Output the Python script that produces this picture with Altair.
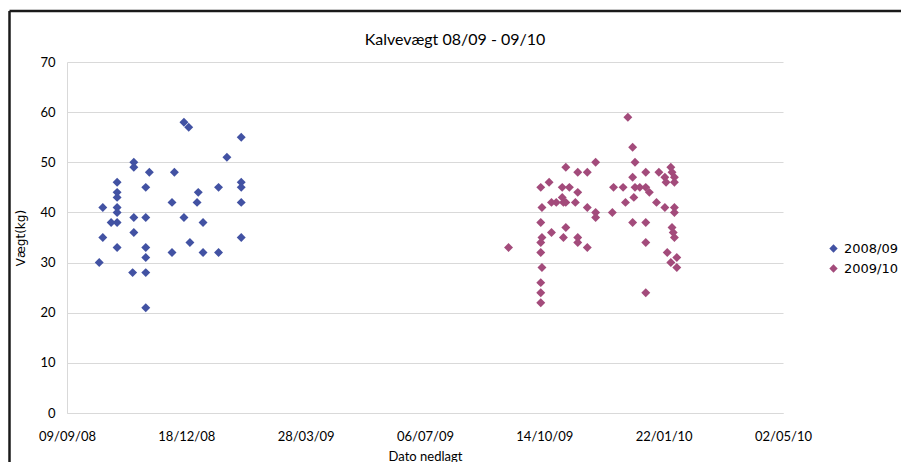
import altair as alt
import pandas as pd

# 2008/09 season
dates_0809 = [
    "2008-10-06",
    "2008-10-09", "2008-10-09",
    "2008-10-16",
    "2008-10-21", "2008-10-21", "2008-10-21", "2008-10-21", "2008-10-21", "2008-10-21", "2008-10-21",
    "2008-11-04", "2008-11-04", "2008-11-04", "2008-11-04",
    "2008-11-03",
    "2008-11-14", "2008-11-14", "2008-11-14", "2008-11-14", "2008-11-14", "2008-11-14",
    "2008-11-17",
    "2008-12-06", "2008-12-06",
    "2008-12-08",
    "2008-12-16", "2008-12-16",
    "2008-12-20",
    "2008-12-21",
    "2008-12-28",
    "2008-12-27",
    "2009-01-01", "2009-01-01",
    "2009-01-14", "2009-01-14",
    "2009-01-21",
    "2009-02-02", "2009-02-02", "2009-02-02", "2009-02-02", "2009-02-02",
]
weights_0809 = [
    30,
    41, 35,
    38,
    46, 44, 43, 41, 40, 38, 33,
    50, 49, 39, 36,
    28,
    45, 39, 33, 31, 28, 21,
    48,
    42, 32,
    48,
    58, 39,
    57,
    34,
    44,
    42,
    38, 32,
    45, 32,
    51,
    55, 46, 45, 42, 35,
]

# 2009/10 season
dates_0910 = [
    "2009-09-14",
    "2009-10-11", "2009-10-11", "2009-10-11", "2009-10-11", "2009-10-11", "2009-10-11", "2009-10-11",
    "2009-10-12", "2009-10-12", "2009-10-12",
    "2009-10-18",
    "2009-10-20", "2009-10-20",
    "2009-10-24",
    "2009-10-29", "2009-10-29",
    "2009-10-30", "2009-10-30",
    "2009-11-01", "2009-11-01", "2009-11-01",
    "2009-11-04",
    "2009-11-09",
    "2009-11-11", "2009-11-11", "2009-11-11", "2009-11-11",
    "2009-11-19", "2009-11-19", "2009-11-19",
    "2009-11-26", "2009-11-26", "2009-11-26",
    "2009-12-10",
    "2009-12-11",
    "2009-12-19",
    "2009-12-21",
    "2009-12-23",
    "2009-12-27", "2009-12-27", "2009-12-27",
    "2009-12-28",
    "2009-12-29", "2009-12-29",
    "2010-01-02",
    "2010-01-07", "2010-01-07", "2010-01-07", "2010-01-07", "2010-01-07",
    "2010-01-10",
    "2010-01-16",
    "2010-01-18",
    "2010-01-23", "2010-01-23",
    "2010-01-24",
    "2010-01-25",
    "2010-01-28", "2010-01-28",
    "2010-01-29", "2010-01-29",
    "2010-01-31", "2010-01-31", "2010-01-31", "2010-01-31", "2010-01-31",
    "2010-01-30",
    "2010-02-02", "2010-02-02",
]
weights_0910 = [
    33,
    45, 38, 34, 32, 26, 24, 22,
    41, 35, 29,
    46,
    42, 36,
    42,
    45, 43,
    42, 35,
    49, 42, 37,
    45,
    42,
    48, 44, 35, 34,
    48, 41, 33,
    50, 40, 39,
    40,
    45,
    45,
    42,
    59,
    53, 47, 38,
    43,
    50, 45,
    45,
    48, 45, 38, 34, 24,
    44,
    42,
    48,
    47, 41,
    46,
    32,
    49, 30,
    48, 37,
    47, 46, 41, 40, 35,
    36,
    31, 29,
]

series_names = ["2008/09", "2009/10"]
series_colors = ["#4252A3", "#A34B7B"]
x_ticks = ["2008-09-09", "2008-12-18", "2009-03-28", "2009-07-06",
           "2009-10-14", "2010-01-22", "2010-05-02"]
y_ticks = [0, 10, 20, 30, 40, 50, 60, 70]
chart_title = "Kalvevægt 08/09 - 09/10"

df = pd.concat([
    pd.DataFrame({"Dato": dates_0809, "Vaegt": weights_0809, "Serie": series_names[0]}),
    pd.DataFrame({"Dato": dates_0910, "Vaegt": weights_0910, "Serie": series_names[1]}),
], ignore_index=True)


def to_dt(s):
    y, m, d = (int(p) for p in s.split("-"))
    return alt.DateTime(year=y, month=m, date=d, utc=True)


W, H = 716, 351
FONT = "Lato"

points = alt.Chart(df).mark_point(
    shape="diamond", filled=True, size=80, opacity=1
).encode(
    x=alt.X(
        "Dato:T",
        title="Dato nedlagt",
        scale=alt.Scale(type="utc", domain=[to_dt(x_ticks[0]), to_dt(x_ticks[-1])], nice=False),
        axis=alt.Axis(
            values=[to_dt(t) for t in x_ticks],
            labelExpr="utcFormat(datum.value, '%d/%m/%y')",
            grid=False, ticks=False, domain=True, domainColor="#d9d9d9",
            labelFontSize=13, labelColor="#000000", labelPadding=17,
            labelFont=FONT, titleFont=FONT, titleFontSize=13, titleFontWeight="normal",
            titleColor="#000000", titlePadding=7, labelOverlap=False, labelFlush=False,
        ),
    ),
    y=alt.Y(
        "Vaegt:Q",
        title="Vægt(kg)",
        scale=alt.Scale(domain=[0, 70], nice=False),
        axis=alt.Axis(
            values=y_ticks, grid=True, gridColor="#d9d9d9", ticks=False,
            domain=True, domainColor="#d9d9d9",
            labelFontSize=13, labelColor="#000000", labelPadding=12, labelFont=FONT,
            titleFont="DejaVu Sans", titleFontSize=12, titleFontWeight="normal",
            titleColor="#000000", titlePadding=12,
        ),
    ),
    color=alt.Color(
        "Serie:N",
        scale=alt.Scale(domain=series_names, range=series_colors),
        legend=alt.Legend(
            title=None, orient="none", legendX=760, legendY=180,
            symbolType="diamond", symbolSize=70, labelFontSize=13,
            labelFont="DejaVu Sans", labelColor="#000000", rowPadding=6,
            labelOffset=4, symbolStrokeWidth=0,
        ),
    ),
)

frame_df = pd.DataFrame({"k": [0]})
title_text = alt.Chart(frame_df).mark_text(
    font=FONT, fontSize=16, color="#000000", align="center", baseline="middle"
).encode(
    x=alt.value(388), y=alt.value(-22), text=alt.value(chart_title)
)
left_line = alt.Chart(frame_df).mark_rule(color="#1a1a1a", strokeWidth=2.5).encode(
    x=alt.value(-57.5), y=alt.value(-51), y2=alt.value(H + 60)
)
top_line = alt.Chart(frame_df).mark_rule(color="#1a1a1a", strokeWidth=2.5).encode(
    x=alt.value(-57.5), x2=alt.value(W + 130), y=alt.value(-51)
)

chart = alt.layer(points, title_text, left_line, top_line).properties(
    width=W, height=H,
    autosize=alt.AutoSizeParams(type="none"),
    padding={"left": 59, "top": 54, "right": 118, "bottom": 49},
).configure_view(stroke=None)

chart.save("out.html", embed_options={"renderer": "svg", "actions": False})
